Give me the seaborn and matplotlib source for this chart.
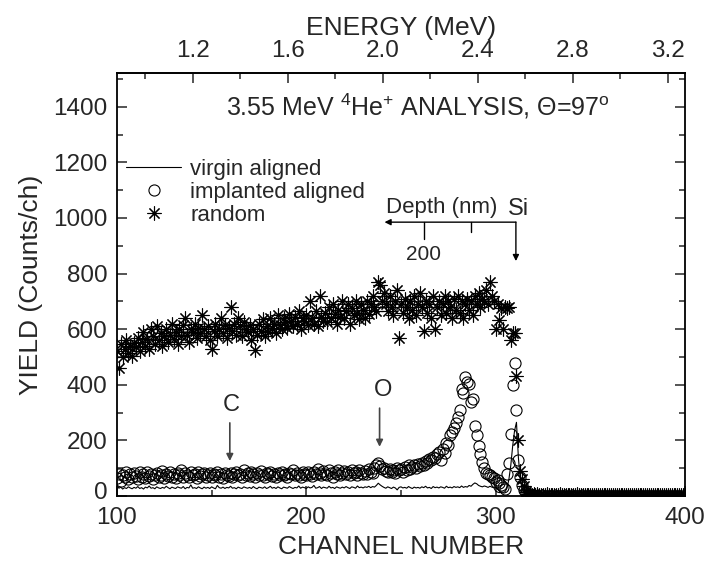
import numpy as np
import matplotlib
matplotlib.use('Agg')
import matplotlib.pyplot as plt
import matplotlib.transforms as mtransforms
import seaborn as sns
from matplotlib.lines import Line2D
from matplotlib.ticker import MultipleLocator, FormatStrFormatter

START_CH = 100  # first channel of every spectrum

# random spectrum (asterisks), one value per channel from 100
random_counts = [
    520, 460, 545, 500, 530, 560, 515, 540, 505, 550,   # 100
    535, 570, 520, 555, 590, 540, 565, 530, 600, 575,   # 110
    545, 610, 560, 585, 540, 575, 600, 555, 580, 620,   # 120
    565, 590, 545, 600, 575, 615, 640, 580, 555, 600,   # 130
    590, 620, 570, 605, 585, 650, 600, 575, 610, 560,   # 140
    530, 595, 620, 575, 600, 640, 585, 615, 570, 605,   # 150
    680, 595, 620, 580, 640, 610, 575, 625, 600, 590,   # 160
    615, 560, 600, 525, 580, 620, 595, 635, 575, 610,   # 170
    590, 640, 605, 620, 585, 650, 615, 600, 640, 625,   # 180
    605, 655, 630, 610, 645, 620, 665, 600, 640, 630,   # 190
    650, 615, 700, 640, 620, 665, 610, 720, 645, 630,   # 200
    660, 625, 680, 640, 690, 655, 620, 670, 645, 700,   # 210
    640, 665, 690, 620, 675, 650, 700, 660, 635, 690,   # 220
    670, 640, 700, 655, 690, 720, 680, 665, 770, 760,   # 230
    700, 730, 690, 665, 720, 680, 650, 700, 740, 570,   # 240
    690, 660, 710, 680, 640, 700, 670, 720, 650, 690,   # 250
    730, 680, 595, 700, 660, 690, 640, 720, 600, 680,   # 260
    700, 650, 690, 720, 660, 700, 680, 640, 710, 670,   # 270
    720, 660, 700, 640, 690, 710, 670, 700, 650, 720,   # 280
    690, 730, 680, 710, 700, 740, 690, 770, 720, 700,   # 290
    600, 690, 632, 675, 601, 680, 675, 680, 562, 587,   # 300
    587, 431, 201, 90, 60, 35, 15,                      # 310-316
    8, 6, 5, 7, 4, 6, 5, 3, 5, 4,                       # 317
    6, 3, 5, 4, 3, 5, 4, 6, 3, 4,                       # 327
    5, 3, 4, 5, 3, 4, 6, 3, 4, 5,                       # 337
    3, 4, 3, 5, 4, 3, 4, 5, 3, 4,                       # 347
    3, 5, 4, 3, 4, 3, 5, 4, 3, 4,                       # 357
    5, 3, 4, 3, 4, 5, 3, 4, 3, 4,                       # 367
    5, 3, 4, 3, 4, 3, 5, 4, 3, 4,                       # 377
    3, 4, 5, 3, 4, 3, 4, 3, 4, 5,                       # 387
    3, 4, 3, 4,                                         # 397-400
]

# implanted aligned spectrum (open circles), one value per channel from 100
implanted_counts = [
    65, 80, 55, 75, 70, 85, 60, 78, 68, 82,             # 100
    72, 60, 85, 70, 78, 65, 88, 72, 80, 62,             # 110
    76, 84, 68, 74, 90, 66, 80, 72, 86, 70,             # 120
    78, 64, 82, 74, 92, 70, 84, 76, 68, 88,             # 130
    74, 80, 66, 86, 72, 78, 84, 70, 76, 82,             # 140
    68, 80, 74, 86, 70, 78, 66, 82, 76, 72,             # 150
    84, 70, 78, 88, 74, 80, 68, 92, 76, 82,             # 160
    72, 86, 78, 68, 84, 74, 90, 76, 70, 82,             # 170
    78, 86, 72, 80, 68, 84, 76, 88, 74, 80,             # 180
    70, 84, 78, 92, 74, 82, 76, 68, 86, 80,             # 190
    74, 88, 80, 72, 86, 78, 96, 82, 74, 90,             # 200
    80, 76, 92, 84, 70, 88, 80, 94, 76, 84,             # 210
    90, 78, 86, 74, 92, 82, 88, 76, 94, 84,             # 220
    80, 90, 78, 96, 86, 82, 100, 112, 120, 108,         # 230
    96, 102, 90, 86, 98, 88, 94, 84, 100, 92,           # 240
    96, 88, 104, 94, 110, 98, 106, 112, 100, 116,       # 250
    108, 120, 112, 126, 118, 132, 128, 140, 136, 150,   # 260
    158, 129, 170, 153, 190, 183, 219, 230, 243, 263,   # 270
    285, 309, 386, 371, 427, 410, 404, 339, 348, 251,   # 280
    221, 181, 150, 123, 100, 84, 80, 75, 70, 65,        # 290
    51, 58, 45, 40, 33, 25, 79, 117, 222, 398,          # 300
    478, 309, 129, 70, 40, 20, 10, 6, 4, 3, 3,          # 310-320
]

# virgin aligned spectrum (line), one value per channel from 100
virgin_counts = [
    40, 28, 32, 25, 30, 27, 33, 29, 26, 31,             # 100
    28, 34, 27, 30, 25, 32, 29, 36, 28, 30,             # 110
    26, 33, 29, 27, 31, 28, 35, 30, 26, 32,             # 120
    29, 27, 33, 30, 28, 34, 26, 31, 29, 40,             # 130
    28, 30, 27, 33, 29, 26, 32, 28, 31, 27,             # 140
    33, 29, 26, 38, 30, 28, 32, 27, 31, 29,             # 150
    35, 28, 30, 26, 32, 29, 27, 33, 30, 28,             # 160
    31, 27, 34, 29, 26, 32, 30, 28, 33, 27,             # 170
    30, 35, 28, 31, 27, 33, 29, 26, 32, 30,             # 180
    28, 34, 30, 27, 31, 29, 36, 28, 32, 30,             # 190
    27, 33, 29, 31, 38, 28, 30, 34, 27, 32,             # 200
    30, 28, 35, 29, 31, 27, 33, 30, 28, 32,             # 210
    29, 34, 30, 27, 33, 31, 28, 36, 30, 32,             # 220
    29, 33, 31, 35, 30, 34, 32, 38, 46, 40,             # 230
    35, 31, 28, 33, 30, 27, 32, 29, 22, 31,             # 240
    33, 29, 31, 28, 34, 30, 27, 32, 29, 31,             # 250
    28, 33, 30, 35, 29, 31, 27, 34, 30, 32,             # 260
    29, 33, 31, 28, 35, 30, 32, 29, 34, 31,             # 270
    33, 30, 36, 31, 34, 32, 38, 35, 42, 47,             # 280
    44, 38, 35, 33, 36, 34, 31, 35, 32, 30,             # 290
    18, 14, 12, 15, 13, 16, 28, 60, 110, 180,           # 300
    235, 265, 140, 60, 25, 10, 5,                       # 310-316
    4, 3, 3, 2, 3, 2, 3, 3, 2, 3,                       # 317
    2, 3, 2, 3, 3, 2, 3, 2, 3, 2,                       # 327
    3, 2, 3, 3, 2, 3, 2, 3, 2, 3,                       # 337
    2, 3, 3, 2, 3, 2, 3, 2, 3, 3,                       # 347
    2, 3, 2, 3, 2, 3, 3, 2, 3, 2,                       # 357
    3, 2, 3, 2, 3, 3, 2, 3, 2, 3,                       # 367
    2, 3, 3, 2, 3, 2, 3, 2, 3, 2,                       # 377
    3, 3, 2, 3, 2, 3, 2, 3, 3, 2,                       # 387
    3, 2, 3, 2,                                         # 397-400
]

legend_labels = ['virgin aligned', 'implanted aligned', 'random']
y_ticks = [0, 200, 400, 600, 800, 1000, 1200, 1400]
x_ticks = [100, 200, 300, 400]
energy_ticks = [1.2, 1.6, 2.0, 2.4, 2.8, 3.2]

# energy calibration: E (MeV) = E0 + k * channel
E0, K_CAL = 0.0853, 0.007968

sns.set_style('ticks')
plt.rcParams['font.family'] = ['Liberation Sans', 'DejaVu Sans']
plt.rcParams['mathtext.fontset'] = 'custom'
plt.rcParams['mathtext.rm'] = 'Liberation Sans'
plt.rcParams['mathtext.it'] = 'Liberation Sans:italic'

fig = plt.figure(figsize=(7.09, 5.63), dpi=100)
ax = fig.add_axes([0.165, 0.119, 0.8011, 0.7506])

ch_v = np.arange(START_CH, START_CH + len(virgin_counts))
ch_i = np.arange(START_CH, START_CH + len(implanted_counts))
ch_r = np.arange(START_CH, START_CH + len(random_counts))

star = (8, 2, 0)  # "+" and "x" overlaid
sns.lineplot(x=ch_v, y=virgin_counts, ax=ax, color='black', lw=0.8,
             estimator=None, zorder=2)
sns.lineplot(x=ch_i, y=implanted_counts, ax=ax, estimator=None, linestyle='',
             marker='o', markersize=8, markerfacecolor='none',
             markeredgecolor='black', markeredgewidth=0.8, zorder=3)
sns.lineplot(x=ch_r, y=random_counts, ax=ax, estimator=None, linestyle='',
             marker=star, markersize=10, color='black',
             markeredgecolor='black', markeredgewidth=0.8, zorder=3)

ax.set_xlim(100, 400)
ax.set_ylim(0, 1520)
ax.set_xticks(x_ticks)
ax.set_yticks(y_ticks)
ax.xaxis.set_minor_locator(MultipleLocator(50))
ax.yaxis.set_minor_locator(MultipleLocator(100))
ax.tick_params(which='both', direction='in', top=False, right=True,
               width=1.1, labelsize=17.5)
ax.tick_params(axis='y', pad=7)
ax.tick_params(axis='x', pad=8)
ax.tick_params(which='major', length=7)
ax.tick_params(which='minor', length=4)
for s in ax.spines.values():
    s.set_linewidth(1.3)
    s.set_color('black')

ax.set_xlabel('CHANNEL NUMBER', fontsize=19, labelpad=4)
ax.set_ylabel('YIELD (Counts/ch)', fontsize=19, labelpad=7)

secax = ax.secondary_xaxis('top', functions=(lambda c: E0 + K_CAL * c,
                                              lambda e: (e - E0) / K_CAL))
secax.set_xticks(energy_ticks)
secax.xaxis.set_major_formatter(FormatStrFormatter('%.1f'))
secax.xaxis.set_minor_locator(MultipleLocator(0.2))
secax.tick_params(which='both', direction='in', width=1.1, labelsize=17.5, pad=8)
secax.tick_params(which='major', length=7)
secax.tick_params(which='minor', length=4)
secax.spines['top'].set_linewidth(1.3)
secax.set_xlabel('ENERGY (MeV)', fontsize=19, labelpad=4)

ax.text(259, 1400, r'3.55 MeV $^{4}$He$^{+}$ ANALYSIS, $\Theta$=97$^{\rm o}$',
        ha='center', va='center', fontsize=18)

handles = [
    Line2D([], [], color='black', lw=0.8),
    Line2D([], [], marker='o', ls='', markerfacecolor='none',
           markeredgecolor='black', markersize=8, markeredgewidth=0.8),
    Line2D([], [], marker=star, ls='', color='black', markersize=10,
           markeredgewidth=0.8),
]
ax.legend(handles, legend_labels, loc='upper left',
          bbox_to_anchor=(104.7, 1213), bbox_transform=ax.transData,
          frameon=False, fontsize=16, handlelength=2.5, handletextpad=0.4,
          labelspacing=0.1, borderpad=0, borderaxespad=0)

# element markers
arrow_gray = '#444444'
ax.text(160.5, 327, 'C', ha='center', va='center', fontsize=17)
ax.annotate('', xy=(159.6, 126), xytext=(159.6, 263),
            arrowprops=dict(arrowstyle='-|>', color=arrow_gray, lw=1.2,
                            mutation_scale=10, shrinkA=0, shrinkB=0))
ax.text(240.4, 383, 'O', ha='center', va='center', fontsize=17)
ax.annotate('', xy=(238.7, 177), xytext=(238.7, 316),
            arrowprops=dict(arrowstyle='-|>', color=arrow_gray, lw=1.2,
                            mutation_scale=10, shrinkA=0, shrinkB=0))

# depth scale
ax.annotate('', xy=(241.3, 985), xytext=(310.7, 985),
            arrowprops=dict(arrowstyle='-|>', color='black', lw=1.0,
                            mutation_scale=9, shrinkA=0, shrinkB=0))
ax.annotate('', xy=(310.7, 845), xytext=(310.7, 985),
            arrowprops=dict(arrowstyle='-|>', color='black', lw=1.0,
                            mutation_scale=9, shrinkA=0, shrinkB=0))
ax.plot([262, 262], [985, 926], color='black', lw=1.0)
ax.plot([286.9, 286.9], [985, 948], color='black', lw=1.0)
ax.text(271.6, 1038, 'Depth (nm)', ha='center', va='center', fontsize=16)
ax.text(306.5, 1034, 'Si', ha='left', va='center', fontsize=17)
ax.text(262, 869, '200', ha='center', va='center', fontsize=15)

# the "0" label sits slightly above its tick in the reference
fig.canvas.draw()
zero_lbl = ax.get_yticklabels()[0]
zero_lbl.set_transform(zero_lbl.get_transform() +
                       mtransforms.ScaledTranslation(0, 4 / 72, fig.dpi_scale_trans))

fig.savefig('out.png', dpi=100)
